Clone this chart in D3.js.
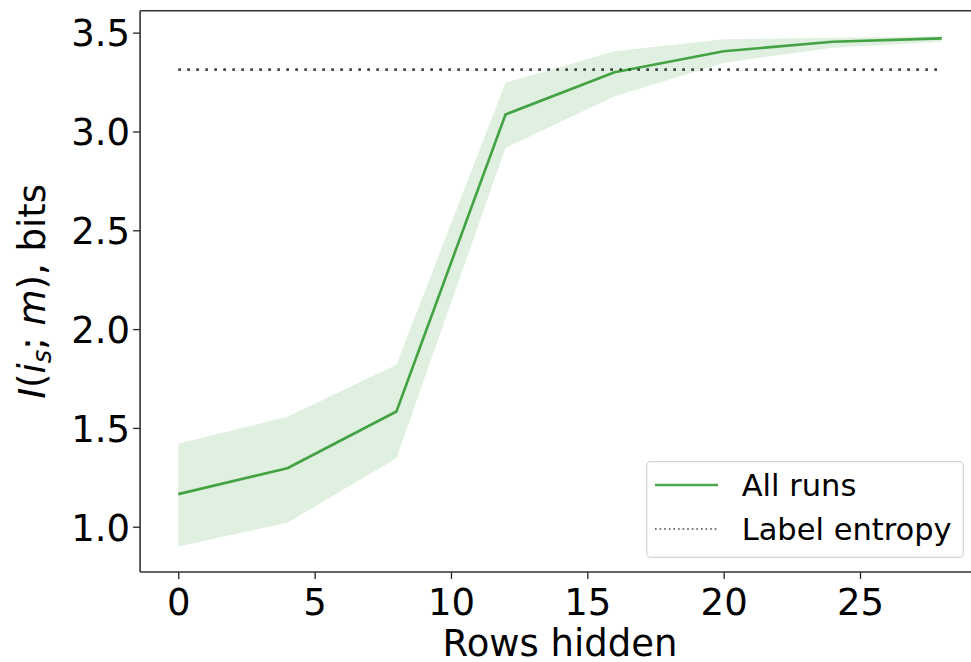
<!DOCTYPE html>
<html>
<head>
<meta charset="utf-8">
<script src="https://cdn.jsdelivr.net/npm/d3@7"></script>
<style>
  html, body { margin: 0; padding: 0; background: #fff; }
  svg text { font-family: "DejaVu Sans", sans-serif; fill: #000; }
</style>
</head>
<body>
<svg id="chart" width="971" height="662"></svg>
<script>
// ---- data ----
const rowsHidden = [0, 4, 8, 12, 16, 20, 24, 28];
const meanInfo   = [1.165, 1.296, 1.583, 3.086, 3.300, 3.406, 3.454, 3.471];
const upperInfo  = [1.420, 1.557, 1.820, 3.246, 3.406, 3.466, 3.474, 3.482];
const lowerInfo  = [0.900, 1.020, 1.347, 2.917, 3.178, 3.347, 3.424, 3.454];
const labelEntropy = 3.313;
const xTicks = [0, 5, 10, 15, 20, 25];
const yTicks = [1.0, 1.5, 2.0, 2.5, 3.0, 3.5];
const legendLabels = ["All runs", "Label entropy"];

const svg = d3.select("#chart");
const mLeft = 140.1, mRight = 980, mTop = 10.7, mBottom = 572;
const FS = 37;

const x = d3.scaleLinear().domain([-1.4, 29.4]).range([mLeft, mRight]);
const y = d3.scaleLinear().domain([0.771, 3.611]).range([mBottom, mTop]);

const plot = svg.append("g");

// band
const area = d3.area()
  .x((d, i) => x(rowsHidden[i]))
  .y0((d, i) => y(lowerInfo[i]))
  .y1((d, i) => y(upperInfo[i]));
plot.append("path").datum(meanInfo).attr("d", area)
  .attr("fill", "green").attr("fill-opacity", 0.12).attr("stroke", "none");

// entropy dotted line
plot.append("line")
  .attr("x1", x(rowsHidden[0])).attr("x2", x(rowsHidden[rowsHidden.length - 1]))
  .attr("y1", y(labelEntropy)).attr("y2", y(labelEntropy))
  .attr("stroke", "#333").attr("stroke-opacity", 0.9)
  .attr("stroke-width", 2.7).attr("stroke-dasharray", "2.7,6.3");

// mean line
const line = d3.line().x((d, i) => x(rowsHidden[i])).y(d => y(d));
plot.append("path").datum(meanInfo).attr("d", line)
  .attr("fill", "none").attr("stroke", "green").attr("stroke-opacity", 0.7)
  .attr("stroke-width", 2.6).attr("stroke-linejoin", "round");

// axes
const xAxis = d3.axisBottom(x).tickValues(xTicks).tickFormat(d3.format("d"))
  .tickSize(7).tickPadding(6);
const gx = svg.append("g").attr("transform", `translate(0,${mBottom})`).call(xAxis);
const yAxis = d3.axisLeft(y).tickValues(yTicks).tickFormat(d3.format(".1f"))
  .tickSize(7).tickPadding(3);
const gy = svg.append("g").attr("transform", `translate(${mLeft},0)`).call(yAxis);
[gx, gy].forEach(g => {
  g.select(".domain").remove();
  g.selectAll(".tick line").attr("stroke", "#222").attr("stroke-width", 1.3);
  g.selectAll(".tick text").attr("font-size", FS).attr("font-family", "DejaVu Sans").attr("fill", "#111");
});
gx.selectAll(".tick text").attr("dy", null).attr("y", 43);
gy.selectAll(".tick text").attr("dy", "0.36em");

// spines (left, top, bottom; right cropped)
svg.append("line").attr("x1", mLeft).attr("x2", mLeft).attr("y1", mTop).attr("y2", mBottom)
  .attr("stroke", "#333").attr("stroke-width", 1.6);
svg.append("line").attr("x1", mLeft).attr("x2", mRight).attr("y1", mTop).attr("y2", mTop)
  .attr("stroke", "#333").attr("stroke-width", 1.6);
svg.append("line").attr("x1", mLeft).attr("x2", mRight).attr("y1", mBottom).attr("y2", mBottom)
  .attr("stroke", "#333").attr("stroke-width", 1.6);

// axis labels
svg.append("text").attr("x", (mLeft + mRight) / 2).attr("y", 655.5)
  .attr("text-anchor", "middle").attr("font-size", FS).text("Rows hidden");

const yl = svg.append("text")
  .attr("transform", `translate(45,${(mTop + mBottom) / 2}) rotate(-90)`)
  .attr("text-anchor", "middle").attr("font-size", FS);
yl.append("tspan").attr("font-style", "italic").text("I");
yl.append("tspan").text("(");
yl.append("tspan").attr("font-style", "italic").text("i");
yl.append("tspan").attr("font-style", "italic").attr("font-size", FS * 0.7).attr("dy", 6).text("s");
yl.append("tspan").attr("dy", -6).text("; ");
yl.append("tspan").attr("font-style", "italic").text("m");
yl.append("tspan").text("), bits");

// legend
const lg = svg.append("g");
lg.append("rect").attr("x", 646.7).attr("y", 461.7).attr("width", 316.6).attr("height", 95.6)
  .attr("rx", 4).attr("fill", "#fff").attr("fill-opacity", 0.8)
  .attr("stroke", "#d6d6d6").attr("stroke-width", 1.3);
const rowsY = [485, 529];
lg.append("line").attr("x1", 655).attr("x2", 718).attr("y1", rowsY[0]).attr("y2", rowsY[0])
  .attr("stroke", "green").attr("stroke-opacity", 0.7).attr("stroke-width", 2.6);
lg.append("line").attr("x1", 655).attr("x2", 718).attr("y1", rowsY[1]).attr("y2", rowsY[1])
  .attr("stroke", "#333").attr("stroke-opacity", 0.9).attr("stroke-width", 1.6).attr("stroke-dasharray", "1.6,3");
legendLabels.forEach((t, i) => {
  lg.append("text").attr("x", 741.7).attr("y", rowsY[i]).attr("dy", "0.36em")
    .attr("font-size", 30.5).text(t);
});
</script>
</body>
</html>
